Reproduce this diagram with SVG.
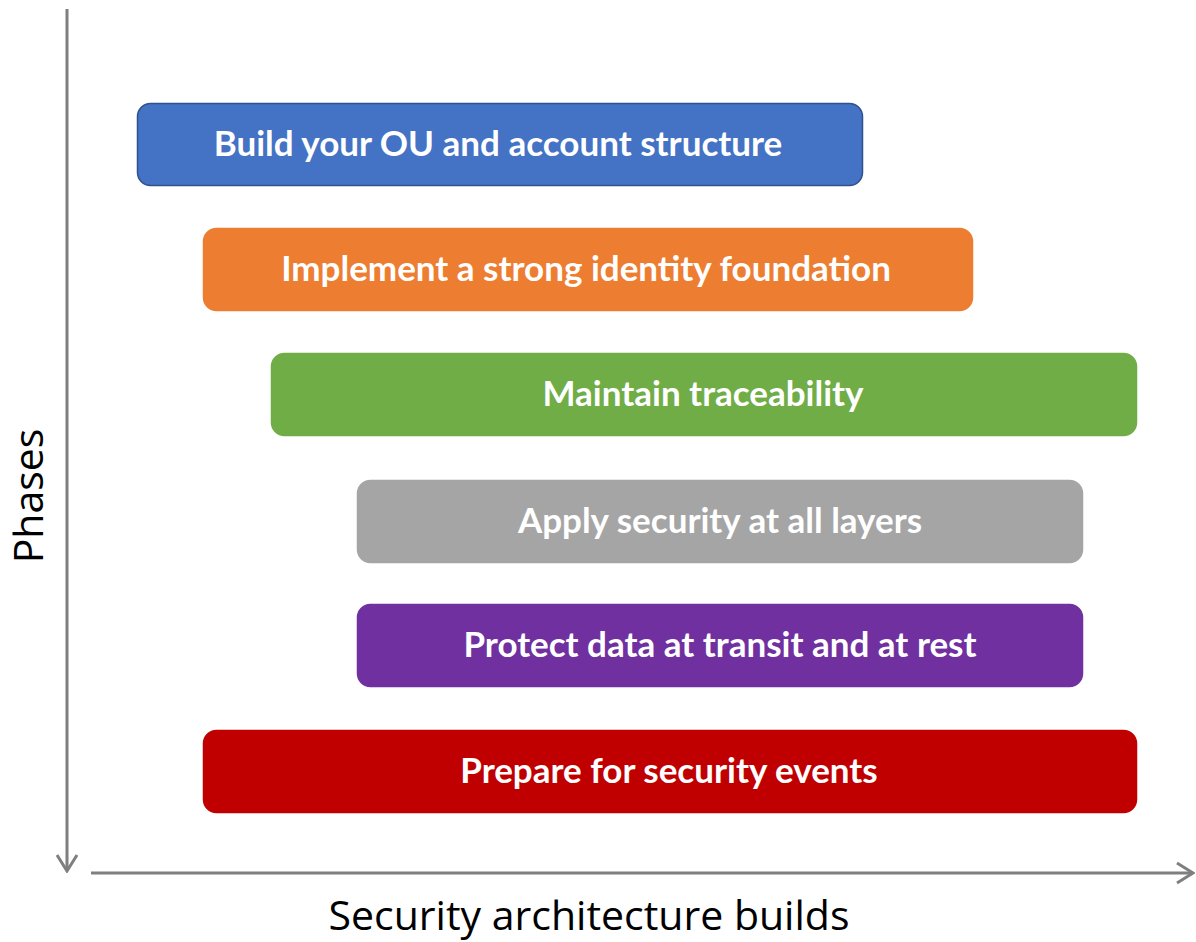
<svg xmlns="http://www.w3.org/2000/svg" width="1196" height="942" viewBox="0 0 1196 942">
<style>
.box{stroke-width:1.5}
.lbl{font-family:Lato,"Open Sans",sans-serif;font-weight:bold;font-size:35px;fill:#fff;text-anchor:middle;dominant-baseline:central}
.ax{stroke:#7f7f7f;stroke-width:3;fill:none}
.axt{font-family:"Open Sans","Noto Sans",sans-serif;font-size:41px;fill:#000;text-anchor:middle}
</style>
<defs>
<marker id="ah" viewBox="0 0 24 24" refX="22" refY="12" markerWidth="24" markerHeight="24" markerUnits="userSpaceOnUse" orient="auto">
<path d="M6,2 L22,12 L6,22" fill="none" stroke="#7f7f7f" stroke-width="3"/>
</marker>
</defs>
<rect width="1196" height="942" fill="#fff"/>
<g id="connectors">
<line class="ax" x1="67" y1="9" x2="67" y2="871" marker-end="url(#ah)"/>
<line class="ax" x1="91" y1="873" x2="1193" y2="873" marker-end="url(#ah)"/>
</g>
<g id="n1"><rect class="box" x="137.5" y="103.5" width="725" height="82" rx="13" fill="#4472C4" stroke="#2F528F"/><text class="lbl" x="498" y="142">Build your OU and account structure</text></g>
<g id="n2"><rect class="box" x="203.5" y="228.5" width="769" height="82" rx="13" fill="#ED7D31" stroke="#ED7D31"/><text class="lbl" x="586" y="267">Implement a strong identity foundation</text></g>
<g id="n3"><rect class="box" x="271.5" y="353.5" width="865" height="82" rx="13" fill="#70AD47" stroke="#70AD47"/><text class="lbl" x="703" y="392">Maintain traceability</text></g>
<g id="n4"><rect class="box" x="357.5" y="480.5" width="725" height="82" rx="13" fill="#A5A5A5" stroke="#A5A5A5"/><text class="lbl" x="720" y="519">Apply security at all layers</text></g>
<g id="n5"><rect class="box" x="357.5" y="604.5" width="725" height="82" rx="13" fill="#7030A0" stroke="#7030A0"/><text class="lbl" x="720" y="643">Protect data at transit and at rest</text></g>
<g id="n6"><rect class="box" x="203.5" y="730.5" width="933" height="82" rx="13" fill="#C00000" stroke="#C00000"/><text class="lbl" x="669" y="769">Prepare for security events</text></g>
<g id="axis-labels">
<text class="axt" transform="translate(43,496) rotate(-90)">Phases</text>
<text class="axt" x="589" y="930">Security architecture builds</text>
</g>
</svg>
